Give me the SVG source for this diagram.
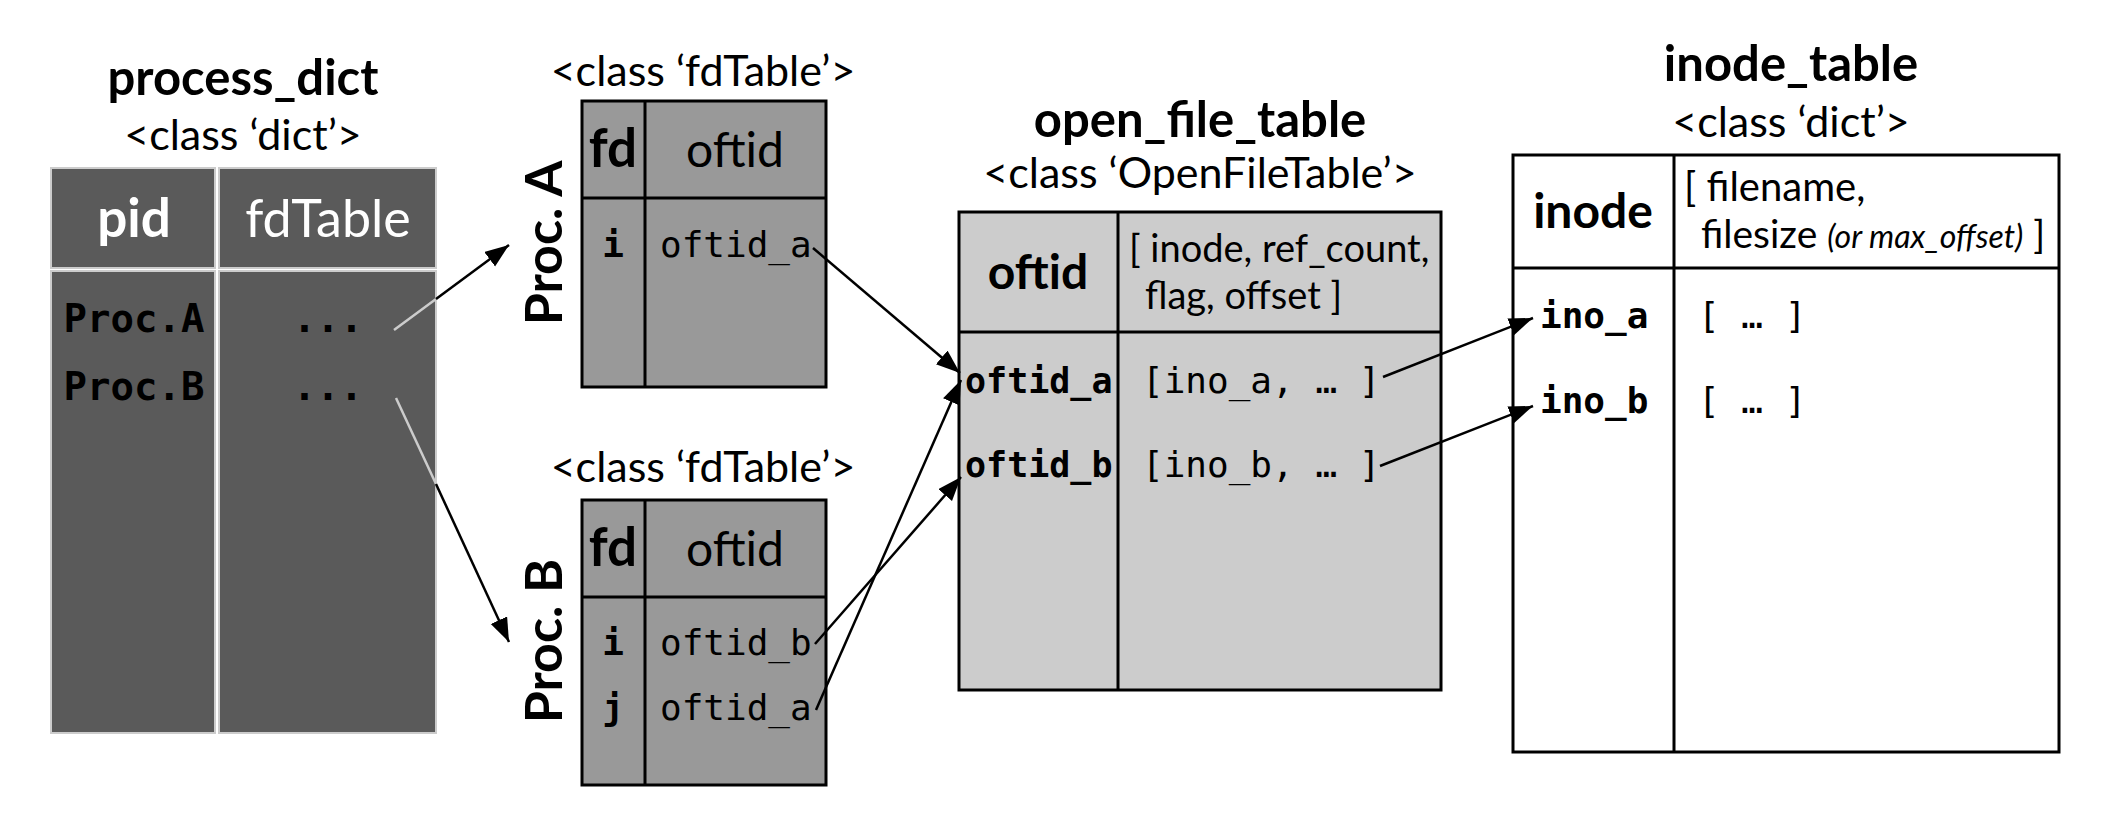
<svg xmlns="http://www.w3.org/2000/svg" width="2120" height="836" viewBox="0 0 2120 836">
<style>
.title{font-family:Lato,"Open Sans",sans-serif;font-weight:bold;font-size:49px;fill:#000;text-anchor:middle}
.cls{font-family:Lato,"Open Sans",sans-serif;font-size:43px;fill:#000;text-anchor:middle}
.hdr{font-family:Lato,"Open Sans",sans-serif;font-size:48px;fill:#000;text-anchor:middle}
.hb{font-weight:bold}
.wt{fill:#ffffff}
.txt{font-family:Lato,"Open Sans",sans-serif;font-size:38px;fill:#000}
.mono{font-family:"DejaVu Sans Mono","Liberation Mono",monospace;font-size:36px;fill:#000}
.mb{font-weight:bold}
.dark{fill:#5a5a5a;stroke:#cccccc;stroke-width:2}
.mid{fill:#999999;stroke:#000;stroke-width:3}
.light{fill:#cccccc;stroke:#000;stroke-width:3}
.white{fill:#ffffff;stroke:#000;stroke-width:3}
.sep{stroke:#000;stroke-width:3}
.ln{fill:none;stroke:#000;stroke-width:2.5}
.lg{fill:none;stroke:#cccccc;stroke-width:2.5}
</style>
<defs>
<marker id="ah" markerUnits="userSpaceOnUse" markerWidth="26" markerHeight="20" refX="24" refY="9" orient="auto">
<path d="M0,0 L24,9 L0,18 z" fill="#000"/>
</marker>
</defs>

<g id="process_dict">
<text class="title" x="243" y="95">process_dict</text>
<text class="cls" x="243" y="150">&lt;class ‘dict’&gt;</text>
<rect class="dark" x="51" y="168" width="164" height="100"/>
<rect class="dark" x="219" y="168" width="217" height="100"/>
<rect class="dark" x="51" y="271" width="164" height="462"/>
<rect class="dark" x="219" y="271" width="217" height="462"/>
<text class="hdr hb wt" x="134" y="237" style="font-size:53px">pid</text>
<text class="hdr wt" x="328" y="237" style="font-size:52px">fdTable</text>
<text class="mono mb wt" x="134" y="332" text-anchor="middle" style="font-size:39px">Proc.A</text>
<text class="mono mb wt" x="134" y="400" text-anchor="middle" style="font-size:39px">Proc.B</text>
<text class="mono mb wt" x="328" y="332" text-anchor="middle" style="font-size:39px">...</text>
<text class="mono mb wt" x="328" y="400" text-anchor="middle" style="font-size:39px">...</text>
</g>

<g id="fdtable_a">
<text class="cls" x="703" y="86">&lt;class ‘fdTable’&gt;</text>
<text class="title" transform="translate(562,243) rotate(-90)" style="font-size:52px">Proc. A</text>
<rect class="mid" x="582" y="101" width="244" height="286"/>
<line class="sep" x1="645" y1="101" x2="645" y2="387"/>
<line class="sep" x1="582" y1="198" x2="826" y2="198"/>
<text class="hdr hb" x="613" y="167" style="font-size:53px">fd</text>
<text class="hdr" x="735" y="167">oftid</text>
<text class="mono mb" x="613" y="257" text-anchor="middle">i</text>
<text class="mono" x="660" y="257">oftid_a</text>
</g>

<g id="fdtable_b">
<text class="cls" x="703" y="482">&lt;class ‘fdTable’&gt;</text>
<text class="title" transform="translate(562,641) rotate(-90)" style="font-size:52px">Proc. B</text>
<rect class="mid" x="582" y="500" width="244" height="285"/>
<line class="sep" x1="645" y1="500" x2="645" y2="785"/>
<line class="sep" x1="582" y1="597" x2="826" y2="597"/>
<text class="hdr hb" x="613" y="566" style="font-size:53px">fd</text>
<text class="hdr" x="735" y="566">oftid</text>
<text class="mono mb" x="613" y="655" text-anchor="middle">i</text>
<text class="mono mb" x="613" y="720" text-anchor="middle">j</text>
<text class="mono" x="660" y="655">oftid_b</text>
<text class="mono" x="660" y="720">oftid_a</text>
</g>

<g id="open_file_table">
<text class="title" x="1200" y="137">open_file_table</text>
<text class="cls" x="1200" y="188">&lt;class ‘OpenFileTable’&gt;</text>
<rect class="light" x="959" y="212" width="482" height="478"/>
<line class="sep" x1="1118" y1="212" x2="1118" y2="690"/>
<line class="sep" x1="959" y1="332" x2="1441" y2="332"/>
<text class="hdr hb" x="1038" y="289">oftid</text>
<text class="txt" x="1129" y="262">[ inode, ref_count,</text>
<text class="txt" x="1145" y="309">flag, offset ]</text>
<text class="mono mb" x="965" y="393" style="font-size:35px">oftid_a</text>
<text class="mono mb" x="965" y="477" style="font-size:35px">oftid_b</text>
<text class="mono" x="1142" y="393">[ino_a, … ]</text>
<text class="mono" x="1142" y="477">[ino_b, … ]</text>
</g>

<g id="inode_table">
<text class="title" x="1791" y="81">inode_table</text>
<text class="cls" x="1791" y="137">&lt;class ‘dict’&gt;</text>
<rect class="white" x="1513" y="155" width="546" height="597"/>
<line class="sep" x1="1674" y1="155" x2="1674" y2="752"/>
<line class="sep" x1="1513" y1="268" x2="2059" y2="268"/>
<text class="hdr hb" x="1593" y="228">inode</text>
<text class="txt" x="1684" y="201" style="font-size:40px">[ filename,</text>
<text class="txt" x="1701" y="248" style="font-size:39px">filesize <tspan style="font-style:italic;font-size:32px">(or  max_offset)</tspan> ]</text>
<text class="mono mb" x="1540" y="328">ino_a</text>
<text class="mono mb" x="1540" y="413">ino_b</text>
<text class="mono" x="1698" y="328">[ … ]</text>
<text class="mono" x="1698" y="413">[ … ]</text>
</g>

<g id="connectors">
<line class="lg" x1="394" y1="330" x2="436" y2="299"/>
<line class="ln" x1="436" y1="299" x2="509" y2="245" marker-end="url(#ah)"/>
<line class="lg" x1="396" y1="398" x2="436" y2="484"/>
<line class="ln" x1="436" y1="484" x2="509" y2="642" marker-end="url(#ah)"/>
<line class="ln" x1="813" y1="248" x2="960" y2="373" marker-end="url(#ah)"/>
<line class="ln" x1="815" y1="644" x2="961" y2="477" marker-end="url(#ah)"/>
<line class="ln" x1="816" y1="710" x2="961" y2="380" marker-end="url(#ah)"/>
<line class="ln" x1="1383" y1="377" x2="1533" y2="318" marker-end="url(#ah)"/>
<line class="ln" x1="1380" y1="466" x2="1533" y2="406" marker-end="url(#ah)"/>
</g>
</svg>
